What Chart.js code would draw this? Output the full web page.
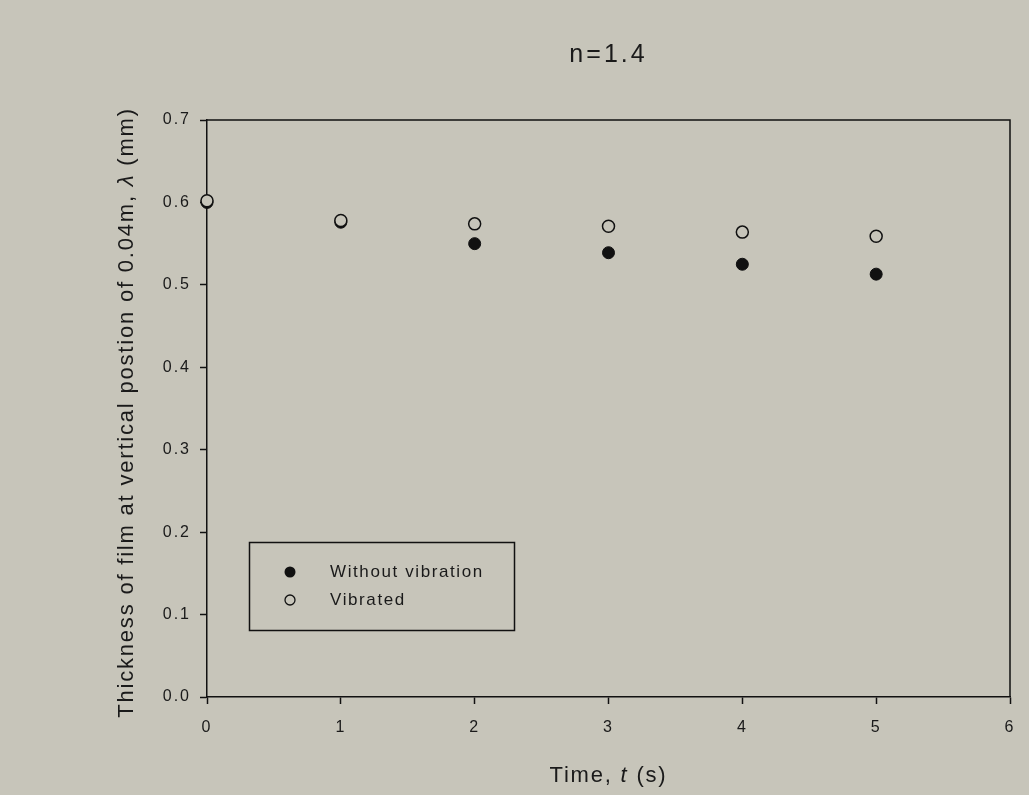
<!DOCTYPE html>
<html>
<head>
<meta charset="utf-8">
<script src="https://cdn.jsdelivr.net/npm/chart.js@4"></script>
<style>
  html, body { margin: 0; padding: 0; background: #c7c5ba; }
  #wrap { width: 1029px; height: 795px; }
</style>
</head>
<body>
<div id="wrap"><canvas id="filmChart" width="1029" height="795"></canvas></div>
<script>
// data
const times = [0, 1, 2, 3, 4, 5];
const withoutVibration = [0.600, 0.576, 0.550, 0.539, 0.525, 0.513];
const vibrated = [0.602, 0.578, 0.574, 0.571, 0.564, 0.559];
const seriesNames = ["Without vibration", "Vibrated"];
const xTicks = [0, 1, 2, 3, 4, 5, 6];
const yTicks = [0.0, 0.1, 0.2, 0.3, 0.4, 0.5, 0.6, 0.7];
const chartTitle = "n=1.4";

const bg = "#c7c5ba";
const ink = "#111";
const textCol = "#1a1a1a";
const fam = "'Liberation Sans', Arial, sans-serif";

function toPoints(xs, ys) {
  return xs.map((x, i) => ({ x: x, y: ys[i] }));
}

// background, frame, titles (with italic parts) and legend box
const extras = {
  id: "extras",
  beforeDraw(c) {
    const ctx = c.ctx;
    ctx.save();
    ctx.fillStyle = bg;
    ctx.fillRect(0, 0, c.width, c.height);
    ctx.restore();
    ctx.letterSpacing = "2px"; // wide spacing of the tick labels
  },
  afterDraw(c) {
    const ctx = c.ctx;
    const a = c.chartArea;
    ctx.save();
    ctx.strokeStyle = ink;
    ctx.lineWidth = 1.5;
    ctx.beginPath();
    ctx.moveTo(a.left, a.top);
    ctx.lineTo(a.right, a.top);
    ctx.lineTo(a.right, a.bottom);
    ctx.stroke();

    function drawParts(parts, x, y) {
      let total = 0;
      parts.forEach(p => { ctx.font = p[1]; total += ctx.measureText(p[0]).width; });
      let cx = x - total / 2;
      parts.forEach(p => {
        ctx.font = p[1];
        ctx.fillText(p[0], cx, y);
        cx += ctx.measureText(p[0]).width;
      });
    }
    ctx.fillStyle = textCol;
    ctx.textBaseline = "middle";
    ctx.textAlign = "left";

    ctx.letterSpacing = "3px";
    drawParts([[chartTitle, "25px " + fam]], (a.left + a.right) / 2, 55);

    ctx.letterSpacing = "1.8px";
    const reg = "22px " + fam;
    const ita = "italic 22px " + fam;
    drawParts([["Time, ", reg], ["t", ita], [" (s)", reg]], (a.left + a.right) / 2, 776);

    ctx.save();
    ctx.translate(127, (a.top + a.bottom) / 2 + 4);
    ctx.rotate(-Math.PI / 2);
    drawParts([["Thickness of film at vertical postion of 0.04m, ", reg], ["\u03bb", ita], [" (mm)", reg]], 0, 0);
    ctx.restore();

    // legend
    ctx.lineWidth = 1.5;
    ctx.strokeRect(249.5, 542.5, 265, 88);
    ctx.beginPath();
    ctx.arc(290, 572, 5.5, 0, Math.PI * 2);
    ctx.fillStyle = ink;
    ctx.fill();
    ctx.beginPath();
    ctx.arc(290, 600, 5, 0, Math.PI * 2);
    ctx.fillStyle = bg;
    ctx.fill();
    ctx.lineWidth = 1.3;
    ctx.stroke();
    ctx.fillStyle = textCol;
    ctx.letterSpacing = "1.6px";
    ctx.font = "17px " + fam;
    ctx.fillText(seriesNames[0], 330, 572);
    ctx.fillText(seriesNames[1], 330, 600);
    ctx.restore();
    ctx.letterSpacing = "0px";
  }
};

const tickFont = { family: fam, size: 16 };

new Chart(document.getElementById("filmChart"), {
  type: "scatter",
  data: {
    datasets: [
      {
        label: seriesNames[0],
        data: toPoints(times, withoutVibration),
        pointRadius: 6,
        pointBackgroundColor: ink,
        pointBorderColor: ink,
        pointBorderWidth: 1,
        order: 2
      },
      {
        label: seriesNames[1],
        data: toPoints(times, vibrated),
        pointRadius: 6,
        pointBackgroundColor: bg,
        pointBorderColor: ink,
        pointBorderWidth: 1.5,
        order: 1
      }
    ]
  },
  options: {
    responsive: false,
    animation: false,
    clip: false,
    layout: { padding: { top: 120, right: 19, left: 0, bottom: 0 } },
    plugins: {
      legend: { display: false },
      tooltip: { enabled: false },
      title: { display: false }
    },
    scales: {
      x: {
        type: "linear",
        min: 0,
        max: 6,
        afterBuildTicks: s => { s.ticks = xTicks.map(v => ({ value: v })); },
        afterFit: s => { s.height = 98; },
        grid: { drawOnChartArea: false, tickLength: 7, color: ink, tickWidth: 1.5 },
        border: { color: ink, width: 1.5 },
        ticks: { color: textCol, font: tickFont, padding: 14 }
      },
      y: {
        type: "linear",
        min: 0,
        max: 0.7,
        afterBuildTicks: s => { s.ticks = yTicks.map(v => ({ value: v })); },
        afterFit: s => { s.width = 207; },
        grid: { drawOnChartArea: false, tickLength: 7, color: ink, tickWidth: 1.5 },
        border: { color: ink, width: 1.5 },
        ticks: { color: textCol, font: tickFont, padding: 9, callback: v => v.toFixed(1) }
      }
    }
  },
  plugins: [extras]
});
</script>
</body>
</html>
